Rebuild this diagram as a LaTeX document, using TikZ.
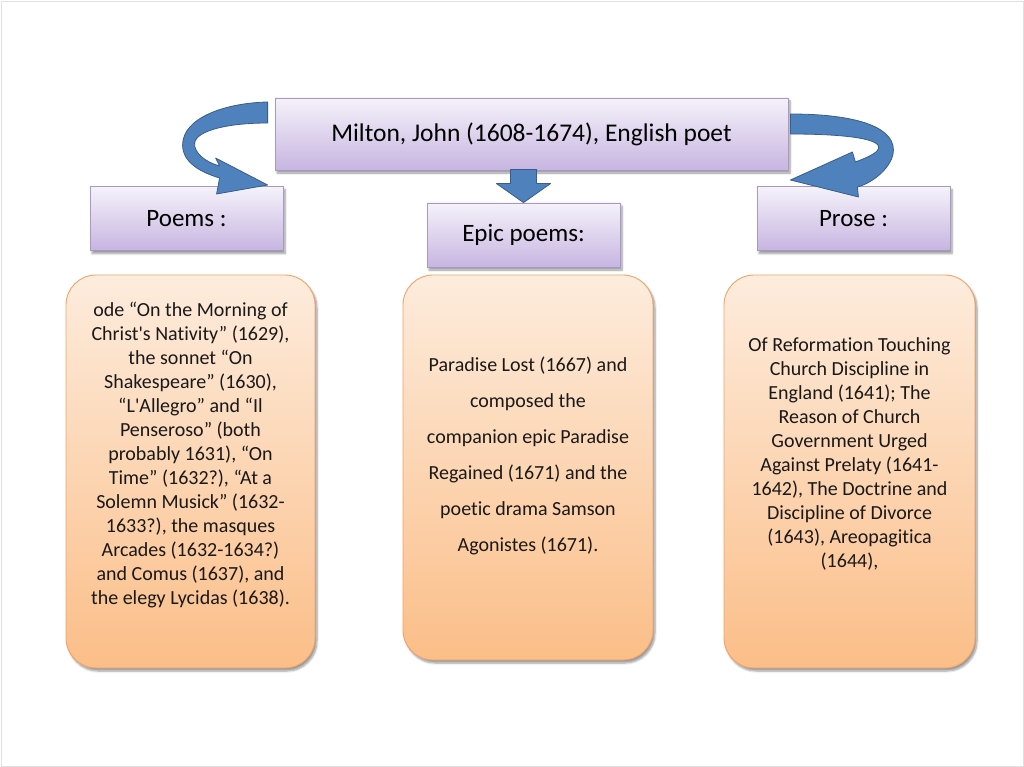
\documentclass[tikz,border=0pt]{standalone}
\usepackage{fontspec}
\setmainfont{Carlito}[Ligatures={TeXOff,NoCommon}]
\usepackage{tikz}
\usetikzlibrary{shadows.blur}
\definecolor{lavtop}{HTML}{F5F2FA}
\definecolor{lavbot}{HTML}{C7B5E1}
\definecolor{lavline}{HTML}{A898C6}
\definecolor{oratop}{HTML}{FDECDD}
\definecolor{orabot}{HTML}{FBBE88}
\definecolor{oraline}{HTML}{EFA36A}
\definecolor{arrowblue}{HTML}{4F81BD}
\definecolor{arrowline}{HTML}{385D8A}
\newcommand{\tbreak}{\kern0pt }

\begin{document}
\begin{tikzpicture}[x=1pt, y=-1pt,
  boxshadow/.style={blur shadow={shadow xshift=2pt, shadow yshift=-3pt, shadow blur steps=6, shadow blur radius=2pt, shadow opacity=40}},
  headbox/.style={boxshadow, draw=lavline, line width=0.8pt, top color=lavtop, bottom color=lavbot, inner sep=0pt, minimum width=193pt, minimum height=64pt, font=\fontsize{25}{30}\selectfont},
  listbox/.style={boxshadow, draw=oraline, line width=0.9pt, top color=oratop, bottom color=orabot, rounded corners=30pt, inner sep=0pt, minimum width=250pt},
  listtext/.style={align=center, inner sep=0pt, text=black!90, font=\fontsize{20}{24}\selectfont},
  bluearrow/.style={fill=arrowblue, draw=arrowline, line width=0.8pt, line join=round}]
\useasboundingbox (0,0) rectangle (1024,767);
\draw[black!12, line width=0.6pt] (1,1) rectangle (1023,766);

\node[headbox, minimum width=513pt, minimum height=72pt, font=\fontsize{25.5}{30}\selectfont] (milton) at (531.5,134) {Milton, John (1608-1674), English poet};
\node[headbox] (poems) at (186.5,218.5) {Poems :};
\node[headbox] (epic) at (523.5,235) {Epic poems:};
\node[headbox] (prose) at (853.5,218.5) {Prose :};

\node[listbox, minimum width=249pt, minimum height=393pt] (poemlist) at (190.5,471.5) {};
\node[listbox, minimum height=385pt] (epiclist) at (528,467.5) {};
\node[listbox, minimum width=251pt, minimum height=393pt] (proselist) at (849.5,471.5) {};

\node[listtext] (poemtext) at (190.5,455) {ode “On the Morning of\\Christ's Nat\tbreak ivity” (1629),\\the sonnet “On\\Shakespeare” (1630),\\“L'Allegro” and “Il\\Penseroso” (both\\probably 1631), “On\\Time” (1632?), “At a\\Solemn Musick” (1632-\\1633?), the masques\\Arcades (1632-1634?)\\and Comus (1637), and\\the elegy Lycidas (1638).};
\node[listtext, font=\fontsize{20}{36}\selectfont] (epictext) at (528,456) {Paradise Lost (1667) and\\composed the\\companion epic Paradise\\Regained (1671) and the\\poet\tbreak ic drama Samson\\Agonistes (1671).};
\node[listtext] (prosetext) at (849.5,454) {Of Reformat\tbreak ion Touching\\Church Discipline in\\England (1641); The\\Reason of Church\\Government Urged\\Against Prelaty (1641-\\1642), The Doctrine and\\Discipline of Divorce\\(1643), Areopagit\tbreak ica\\(1644),};

\begin{scope}[shift={(milton.west)}]
\draw[bluearrow] (-7,-32) .. controls (-50,-31) and (-92,-16) .. (-92,11)
  .. controls (-92,28) and (-75,38) .. (-55,44) -- (-58,60) -- (-7,51) -- (-59,24) -- (-55,32)
  .. controls (-70,28) and (-81,18) .. (-80,9)
  .. controls (-78,-4) and (-45,-11) .. (-7,-11) -- cycle;
\end{scope}
\begin{scope}[shift={(milton.east)}]
\draw[bluearrow] (2,-20) .. controls (62,-20) and (105,-9) .. (105,16)
  .. controls (105,31) and (87,48) .. (69,53) -- (70,63) -- (2,46) -- (64,18) -- (67,28)
  .. controls (80,23) and (92,18) .. (90,12)
  .. controls (87,4) and (52,0) .. (2,0) -- cycle;
\end{scope}
\begin{scope}[shift={(epic.north)}]
\draw[bluearrow] (-13,-33) -- (-13,-19) -- (-27,-19) -- (0,0) -- (27,-19) -- (13,-19) -- (13,-33) -- cycle;
\end{scope}
\end{tikzpicture}
\end{document}
